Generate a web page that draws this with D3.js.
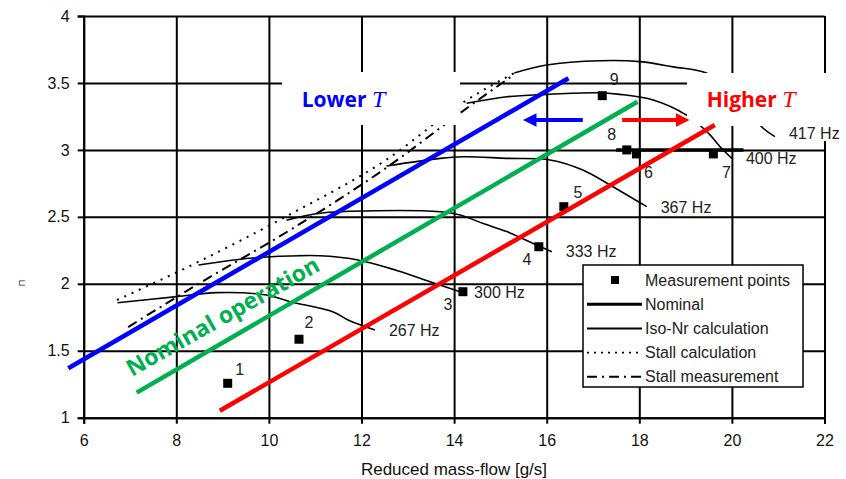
<!DOCTYPE html>
<html>
<head>
<meta charset="utf-8">
<script src="https://cdn.jsdelivr.net/npm/d3@7"></script>
<style>
  body { margin: 0; background: #fff; }
  svg { display: block; font-family: "Liberation Sans", Arial, sans-serif; }
</style>
</head>
<body>
<svg width="846" height="479"></svg>
<script>
// ticks
const xTicks = [6, 8, 10, 12, 14, 16, 18, 20, 22];
const yTicks = [1, 1.5, 2, 2.5, 3, 3.5, 4];

// iso-Nr calculation curves
const isoNames = ["267 Hz", "300 Hz", "333 Hz", "367 Hz", "400 Hz", "417 Hz"];
const iso267 = [[6.73, 1.859], [8.01, 1.904], [8.87, 1.934], [9.95, 1.916], [10.46, 1.866], [11.39, 1.79], [11.71, 1.73], [12.29, 1.655]];
const iso300 = [[8.48, 2.14], [9.3, 2.18], [9.95, 2.2], [11.1, 2.21], [11.9, 2.18], [12.76, 2.1], [13.48, 2.016], [14.13, 1.94]];
const iso333 = [[10.38, 2.475], [11.1, 2.527], [12.33, 2.546], [13.7, 2.538], [14.13, 2.514], [14.63, 2.45], [15.14, 2.39], [15.78, 2.29], [16.11, 2.24]];
const iso367 = [[12.54, 2.88], [13.7, 2.937], [14.19, 2.949], [15.14, 2.937], [16.07, 2.925], [16.78, 2.85], [17.43, 2.725], [18.16, 2.576]];
const iso400 = [[14.27, 3.348], [15.14, 3.397], [16.0, 3.415], [17.08, 3.427], [17.58, 3.415], [18.3, 3.373], [19.02, 3.26], [19.46, 3.136], [19.81, 2.999], [20.0, 2.937]];
const iso417 = [[15.3, 3.575], [16.0, 3.634], [17.15, 3.666], [18.02, 3.659], [18.73, 3.62], [19.46, 3.572], [20.1, 3.4], [20.64, 3.173], [20.93, 3.099]];
const isoCurves = [iso267, iso300, iso333, iso367, iso400, iso417];

// stall lines
const stallCalc = [[6.72, 1.879], [8.47, 2.163], [10.39, 2.506], [12.53, 2.925], [14.28, 3.373], [15.34, 3.582]];
const stallMeas = [[6.96, 1.677], [8.51, 2.006], [10.46, 2.402], [12.53, 2.865], [14.28, 3.313], [15.25, 3.552]];

// nominal line
const nominal = [[17.5, 3.0], [20.25, 3.0]];

// measurement points
const pointIds = ["1", "2", "3", "4", "5", "6", "7", "8", "9"];
const pointX = [9.11, 10.65, 14.19, 15.83, 16.37, 17.94, 19.6, 17.73, 17.2];
const pointY = [1.257, 1.586, 1.941, 2.277, 2.576, 2.97, 2.97, 3.0, 3.405];

// temperature trend lines
const lowerT = [[5.667, 1.369], [16.47, 3.535]];
const nominalT = [[7.145, 1.187], [17.96, 3.36]];
const higherT = [[8.94, 1.052], [19.63, 3.186]];
const arrowLeft = [[16.78, 3.223], [15.75, 3.223]];
const arrowRight = [[17.63, 3.223], [18.82, 3.223]];

const legendNames = ["Measurement points", "Nominal", "Iso-Nr calculation", "Stall calculation", "Stall measurement"];

const svg = d3.select("svg");

const x = d3.scaleLinear().domain([6, 22]).range([83.7, 824.5]);
const y = d3.scaleLinear().domain([1, 4]).range([417.7, 16]);

// grid
const grid = svg.append("g");
grid.append("g")
  .attr("transform", `translate(${x(6)},0)`)
  .call(d3.axisLeft(y).tickValues(yTicks).tickSize(-(x(22) - x(6))).tickFormat(""))
  .call((g) => g.select(".domain").remove());
grid.append("g")
  .attr("transform", `translate(0,${y(1)})`)
  .call(d3.axisBottom(x).tickValues(xTicks).tickSize(-(y(1) - y(4))).tickFormat(""))
  .call((g) => g.select(".domain").remove());
grid.selectAll("line").attr("stroke", "#000").attr("stroke-width", 2);

// axes
const yAxis = svg.append("g")
  .attr("transform", `translate(${x(6)},0)`)
  .call(d3.axisLeft(y).tickValues(yTicks).tickSize(6).tickPadding(8).tickFormat(d3.format("")));
const xAxis = svg.append("g")
  .attr("transform", `translate(0,${y(1)})`)
  .call(d3.axisBottom(x).tickValues(xTicks).tickSize(6).tickPadding(11).tickFormat(d3.format("")));
[xAxis, yAxis].forEach((a) => {
  a.select(".domain").attr("stroke", "#000").attr("stroke-width", 2);
  a.selectAll("line").attr("stroke", "#000").attr("stroke-width", 2);
  a.selectAll("text").attr("font-size", 16).attr("fill", "#111")
    .attr("font-family", "'Liberation Sans', Arial, sans-serif");
});

svg.append("text")
  .attr("x", 454).attr("y", 475)
  .attr("text-anchor", "middle")
  .attr("font-size", 17).attr("fill", "#111")
  .text("Reduced mass-flow [g/s]");

svg.append("text")
  .attr("transform", "translate(25,283) rotate(-90)")
  .attr("text-anchor", "middle")
  .attr("font-size", 9).attr("fill", "#333")
  .text("Π");

const line = d3.line().x((d) => x(d[0])).y((d) => y(d[1])).curve(d3.curveCatmullRom);
const smooth = d3.line().x((d) => x(d[0])).y((d) => y(d[1])).curve(d3.curveMonotoneX);

// curves
svg.append("path").datum(stallCalc).attr("d", smooth)
  .attr("fill", "none").attr("stroke", "#000").attr("stroke-width", 2)
  .attr("stroke-dasharray", "2,6");
svg.append("path").datum(stallMeas).attr("d", smooth)
  .attr("fill", "none").attr("stroke", "#000").attr("stroke-width", 2)
  .attr("stroke-dasharray", "10,5,2,5");

svg.selectAll(".iso").data(isoCurves).enter()
  .append("path")
  .attr("class", "iso")
  .attr("d", line)
  .attr("fill", "none").attr("stroke", "#000").attr("stroke-width", 1.6);

svg.append("path").datum(nominal).attr("d", line)
  .attr("fill", "none").attr("stroke", "#000").attr("stroke-width", 3.5);

// curve labels
const labelDy = [0, 1, 0, 1, 0, -3];
svg.selectAll(".isolabel").data(isoCurves.slice(0, 5)).enter()
  .append("text")
  .attr("x", (d) => x(d[d.length - 1][0]) + 14)
  .attr("y", (d, i) => y(d[d.length - 1][1]) + labelDy[i])
  .attr("dy", "0.35em")
  .attr("font-size", 16).attr("fill", "#222")
  .text((d, i) => isoNames[i]);

// white boxes behind annotations
svg.append("rect").attr("x", 282).attr("y", 72).attr("width", 178).attr("height", 53).attr("fill", "#fff");
svg.append("rect").attr("x", 687).attr("y", 73).attr("width", 159).attr("height", 53).attr("fill", "#fff");
svg.append("rect").attr("x", 785).attr("y", 126).attr("width", 61).attr("height", 15).attr("fill", "#fff");
svg.append("text")
  .attr("x", x(iso417[iso417.length - 1][0]) + 14)
  .attr("y", y(iso417[iso417.length - 1][1]) + labelDy[5])
  .attr("dy", "0.35em")
  .attr("font-size", 16).attr("fill", "#222")
  .text(isoNames[5]);

// measurement points
const pts = pointIds.map((id, i) => ({ id, x: pointX[i], y: pointY[i] }));
const labelOff = [[12, -14], [10, -17], [-15, 13], [-12, 13], [14, -14], [12, 18], [13, 18], [-15, -16], [12, -16]];
svg.selectAll(".pt").data(pts).enter()
  .append("rect")
  .attr("x", (d) => x(d.x) - 4.5)
  .attr("y", (d) => y(d.y) - 4.5)
  .attr("width", 9).attr("height", 9)
  .attr("fill", "#000");
svg.selectAll(".ptlabel").data(pts).enter()
  .append("text")
  .attr("x", (d, i) => x(d.x) + labelOff[i][0])
  .attr("y", (d, i) => y(d.y) + labelOff[i][1])
  .attr("dy", "0.35em")
  .attr("text-anchor", "middle")
  .attr("font-size", 16).attr("fill", "#222")
  .text((d) => d.id);

// coloured trend lines
const trends = [
  { pts: lowerT, color: "#0000ff" },
  { pts: nominalT, color: "#00b050" },
  { pts: higherT, color: "#ff0000" },
];
svg.selectAll(".trend").data(trends).enter()
  .append("path")
  .attr("d", (d) => d3.line().x((p) => x(p[0])).y((p) => y(p[1]))(d.pts))
  .attr("stroke", (d) => d.color)
  .attr("stroke-width", 4.5)
  .attr("fill", "none");

// arrows
const defs = svg.append("defs");
[["blueHead", "#0000ff"], ["redHead", "#ff0000"]].forEach(([id, c]) => {
  defs.append("marker")
    .attr("id", id)
    .attr("viewBox", "0 0 10 10")
    .attr("refX", 1).attr("refY", 5)
    .attr("markerWidth", 3.6).attr("markerHeight", 3.4)
    .attr("markerUnits", "strokeWidth")
    .attr("orient", "auto")
    .append("path").attr("d", "M0,0L10,5L0,10Z").attr("fill", c);
});
svg.append("path")
  .attr("d", d3.line().x((p) => x(p[0])).y((p) => y(p[1]))(arrowLeft))
  .attr("stroke", "#0000ff").attr("stroke-width", 4)
  .attr("marker-end", "url(#blueHead)");
svg.append("path")
  .attr("d", d3.line().x((p) => x(p[0])).y((p) => y(p[1]))(arrowRight))
  .attr("stroke", "#ff0000").attr("stroke-width", 4)
  .attr("marker-end", "url(#redHead)");

// annotation texts
const lowerText = svg.append("text").attr("x", 301.7).attr("y", 106.7).attr("fill", "#0000ff");
lowerText.append("tspan").attr("font-family", "'Open Sans', sans-serif").attr("font-weight", 700).attr("font-size", 21).text("Lower ");
lowerText.append("tspan").attr("font-family", "'Liberation Serif', serif").attr("font-style", "italic").attr("font-size", 24).text("T");

const higherText = svg.append("text").attr("x", 706.7).attr("y", 107.3).attr("fill", "#ff0000");
higherText.append("tspan").attr("font-family", "'Open Sans', sans-serif").attr("font-weight", 700).attr("font-size", 21).text("Higher ");
higherText.append("tspan").attr("font-family", "'Liberation Serif', serif").attr("font-style", "italic").attr("font-size", 24).text("T");

svg.append("text")
  .attr("transform", "translate(132,377) rotate(-29.5)")
  .attr("font-family", "'Open Sans', sans-serif")
  .attr("font-weight", 700).attr("font-size", 23)
  .attr("fill", "#00b050")
  .text("Nominal operation");

// legend
const legend = svg.append("g");
legend.append("rect")
  .attr("x", 583).attr("y", 265).attr("width", 220).attr("height", 122)
  .attr("fill", "#fff").attr("stroke", "#000").attr("stroke-width", 1.5);
const rowY = (i) => 280 + i * 24.2;
legend.append("rect").attr("x", 611).attr("y", rowY(0) - 4).attr("width", 8).attr("height", 8).attr("fill", "#000");
const legStyles = [null, { w: 3, dash: null }, { w: 2, dash: null }, { w: 1.6, dash: "2,5" }, { w: 2, dash: "10,5,2,5" }];
legStyles.forEach((s, i) => {
  if (!s) return;
  legend.append("line")
    .attr("x1", 587).attr("x2", 642)
    .attr("y1", rowY(i)).attr("y2", rowY(i))
    .attr("stroke", "#000").attr("stroke-width", s.w)
    .attr("stroke-dasharray", s.dash);
});
legend.selectAll(".legtext").data(legendNames).enter()
  .append("text")
  .attr("x", 645)
  .attr("y", (d, i) => rowY(i))
  .attr("dy", "0.35em")
  .attr("font-size", 16).attr("fill", "#222")
  .text((d) => d);
</script>
</body>
</html>
